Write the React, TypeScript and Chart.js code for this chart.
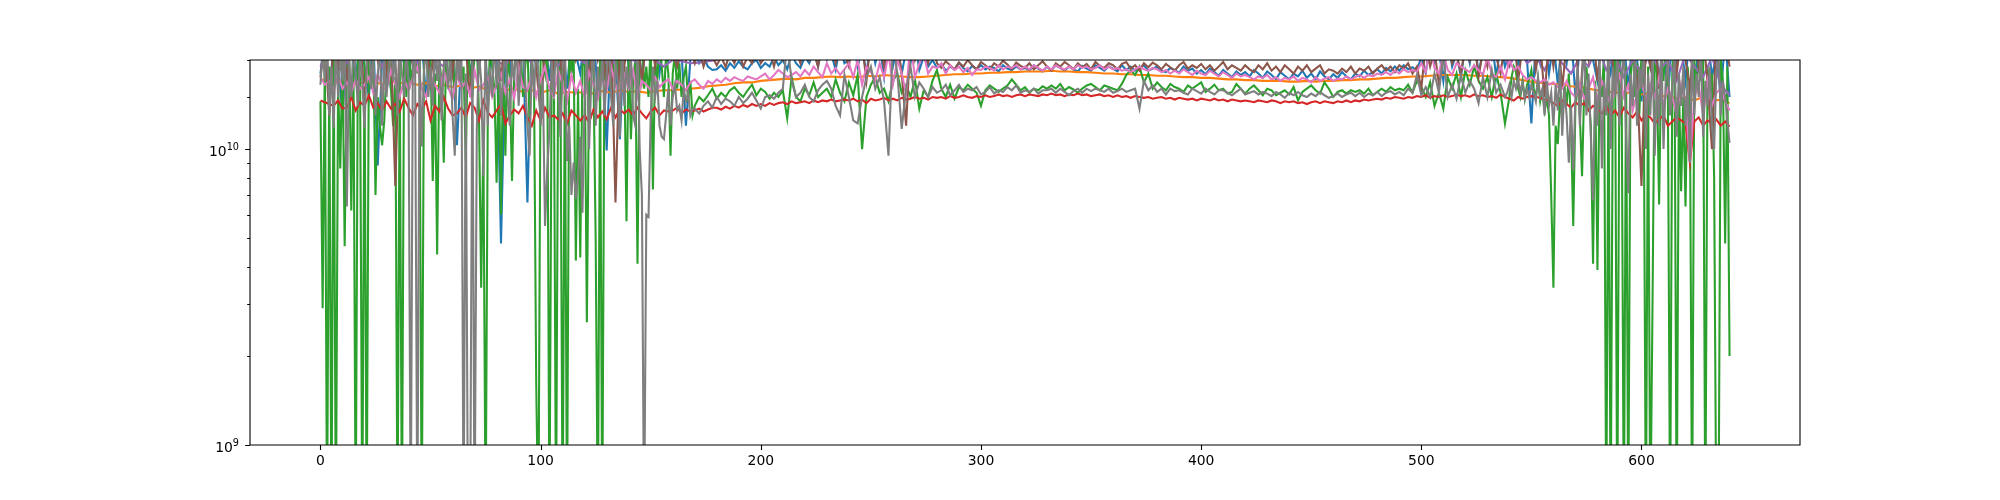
import React, { useEffect, useRef } from "react";
import { Chart, registerables } from "chart.js";

Chart.register(...registerables);

const range = (a: number, b: number, s: number) => {
  const out: number[] = [];
  for (let v = a; v <= b; v += s) out.push(v);
  return out;
};

// Sample positions: every index where the series spike, coarser where they are calm.
const xFine = [...range(0, 169, 1), ...range(170, 538, 2), ...range(539, 640, 1)];
const xStep2 = range(0, 640, 2);
const xStep4 = range(0, 640, 4);
const xTickValues = [0, 100, 200, 300, 400, 500, 600];
const yLabelExponents = [9, 10];

const greenLeft = [
145,29,210,5,190,5,240,5,170,86,
210,47,180,230,62,190,5,220,170,5,
200,5,230,160,210,70,150,120,103,125,
190,230,160,120,175,5,210,5,240,150,
220,170,190,230,180,210,5,190,240,160,
210,78,180,44,200,170,90,190,240,170,
220,150,200,230,170,190,91,230,180,150,
210,240,130,34,110,5,130,220,190,160,
77,200,60,210,95,230,170,78,180,240,
170,210,150,190,230,120,200,170,16,5,
220,200,180,240,5,170,210,5,220,180,
5,200,5,230,180,210,42,160,43,190,
220,26,170,240,180,50,5,200,5,230,
170,210,150,190,240,180,220,160,190,57,
230,108,170,200,41,210,240,160,190,150,
230,73,200,170,240,190,150,210,180,95,
180,210,160,195,150,175,190,145,170,130];
const greenMid = [
140,150,145,152,160,148,155,150,158,162,
155,150,158,165,152,160,156,148,155,150,
158,127,175,150,145,160,152,168,150,155,
160,150,172,155,145,168,152,178,100,150,
165,175,155,160,145,170,180,155,165,150,
172,137,158,150,170,185,160,150,165,148,
162,158,165,160,155,140,158,164,160,156,
160,164,172,165,158,162,155,160,158,163,
160,164,160,166,158,162,159,155,160,164,
166,162,158,164,162,160,158,166,178,185,
178,190,168,180,160,168,162,158,166,162,
160,156,164,160,164,168,156,160,165,158,
160,154,156,166,160,154,160,164,158,152,
160,158,152,155,158,153,162,146,156,160,
164,158,154,168,160,150,156,158,154,158,
156,158,154,160,152,156,160,156,162,158,
160,158,165,155,170,162,150,168,140,155,
137,175,160,180,150,185,165,190,170,160,
175,150,180,155,122];
const greenRight = [
135,
150,175,190,182,160,150,170,148,165,172,
185,160,150,172,145,158,135,148,130,70,
34,120,104,150,125,165,140,180,120,55,
140,170,130,81,160,190,150,120,41,170,
39,185,150,210,5,190,5,170,220,5,
200,160,5,190,5,170,230,150,195,130,
210,180,5,190,5,29,220,180,65,200,
170,230,150,5,190,210,5,170,72,150,
64,190,140,5,200,160,210,170,230,5,
190,150,180,80,5,5,200,170,48,190,
20];

const grayLeft = [
165,220,170,240,130,190,118,230,150,210,
170,240,64,200,150,230,180,140,210,170,
118,190,240,160,210,130,175,230,120,200,
150,190,240,170,210,130,230,180,150,220,
170,5,240,190,5,210,102,180,230,150,
190,140,230,170,210,125,190,240,160,200,
130,95,220,170,240,5,180,5,5,230,
5,116,210,170,81,230,120,190,150,240,
160,210,130,180,230,150,120,200,170,240,
140,190,230,170,120,95,210,150,230,180,
120,170,55,85,115,200,150,230,170,110,
190,240,91,120,70,90,68,80,110,61,
150,200,100,170,230,120,190,150,210,130,
180,240,150,120,200,170,110,230,140,190,
160,210,130,120,230,100,70,5,60,59,
130,190,150,170,120,110,108,130,160,120,
150,165,135,140,125,160,145,155,130,137];
const grayMid = [
137,132,140,145,138,150,142,148,145,140,
150,143,148,155,146,137,150,152,148,155,
160,230,170,150,155,165,150,145,158,165,
170,160,140,130,178,150,125,122,150,175,
190,160,175,145,95,230,180,117,160,190,
150,168,160,150,162,155,158,165,152,158,
165,156,160,158,162,153,156,162,154,158,
156,162,158,164,155,158,156,160,154,158,
158,160,155,160,156,152,157,160,155,160,
157,160,158,156,160,155,157,160,156,158,
160,137,170,158,164,156,160,153,160,157,
158,155,153,160,157,154,160,156,153,158,
158,155,152,156,160,153,155,157,153,156,
154,151,156,153,149,155,152,156,152,150,
154,151,156,152,149,151,154,150,153,155,
151,155,150,154,152,156,151,155,157,153,
156,152,160,155,178,152,162,150,180,155,
210,150,165,148,178,155,170,160,143,175,
150,185,155,165,150];
const grayRight = [
155,
165,150,170,160,172,155,168,148,160,150,
165,155,145,175,150,160,130,170,140,155,
120,165,135,190,111,160,130,90,140,85,
150,190,120,170,230,130,180,110,67,160,
120,200,86,170,130,230,100,190,150,210,
120,170,230,110,71,180,140,210,120,190,
160,230,100,180,130,210,95,170,120,230,
100,170,200,130,160,210,110,180,140,190,
120,170,90,210,130,180,150,230,110,170,
140,190,120,100,180,210,130,170,150,125,
105];

const brownValues = [
175,230,130,240,190,250,170,230,210,240,
150,230,250,200,240,180,230,75,250,210,
230,190,250,210,240,170,230,250,200,240,
180,250,230,220,150,240,190,250,210,230,
240,170,250,200,230,180,250,210,240,190,
130,230,250,190,240,170,230,250,200,220,
240,170,250,200,230,160,250,66,230,190,
250,210,240,170,230,250,190,240,210,250,
210,190,225,200,215,195,220,190,210,205,
192,205,190,210,195,215,190,205,195,215,
195,205,215,190,220,200,210,230,215,195,
225,200,215,190,230,205,220,195,235,210,
190,240,205,225,170,235,210,225,190,240,
205,230,180,120,235,200,225,210,195,230,
195,188,198,192,186,196,190,200,192,186,
197,192,186,195,190,199,193,186,196,191,
188,195,186,192,198,190,184,195,190,197,
192,186,195,189,194,186,197,191,188,195,
192,186,194,197,187,192,184,195,189,196,
192,186,194,189,184,192,197,187,192,188,
194,186,192,184,190,197,186,192,188,184,
192,186,182,192,186,195,184,190,182,192,
186,180,190,184,192,182,187,192,180,186,
184,180,187,182,190,180,187,184,190,180,
187,192,184,190,182,192,187,195,180,190,
160,225,190,215,165,200,230,195,210,180,
225,200,235,175,215,190,240,205,180,230,
195,245,170,225,205,250,185,230,150,240,
190,250,160,230,210,250,140,240,200,250,
170,240,210,250,150,240,195,250,220,170,
75,230,190,250,160,240,210,250,180,240,
200,160,250,190,240,170,100,250,210,240,
190];

const blueValues = [
180,240,150,230,200,130,220,250,170,240,
190,150,240,88,200,230,160,240,190,210,
170,250,200,230,150,240,190,225,250,170,
230,103,210,240,180,225,190,250,160,210,
240,48,210,180,250,195,230,66,240,190,
210,240,170,250,190,230,160,240,210,180,
240,190,250,150,230,99,240,200,108,250,
190,230,250,170,240,210,230,180,250,200,
225,190,210,120,200,215,195,205,190,185,
186,192,184,195,188,198,190,186,195,200,
188,195,190,205,192,200,186,210,195,188,
205,195,215,190,225,200,210,185,225,195,
200,230,190,220,180,235,195,225,175,240,
190,225,180,215,195,230,185,205,190,200,
188,194,184,190,186,196,188,183,191,186,
192,186,190,188,183,192,187,185,190,186,
188,184,192,187,183,190,185,192,188,184,
190,186,183,191,187,184,192,188,184,190,
187,183,192,185,190,184,188,192,184,187,
190,184,182,188,185,181,190,184,187,180,
185,179,187,182,177,185,180,175,183,178,
182,176,185,180,174,183,178,172,182,177,
172,180,176,184,174,180,172,183,176,172,
179,174,182,176,172,180,176,184,178,182,
186,180,188,183,190,184,192,186,189,184,
205,180,230,195,215,170,240,190,210,175,
225,195,240,180,215,200,235,175,225,190,
210,245,190,230,200,122,235,195,250,180,
230,165,240,195,250,150,225,190,240,200,
170,245,210,180,250,190,230,160,240,200,
145,230,190,250,170,225,150,240,195,230,
170,250,155,230,200,245,175,210,150,240,
150];

const purpleValues = [
190,225,205,195,235,200,215,190,230,205,
210,195,225,200,190,235,205,215,195,230,
200,190,225,210,195,235,200,190,220,205,
195,230,200,190,215,205,195,225,200,190,
200,198,195,196,198,200,210,225,240,250,
235,225,245,230,250,225,240,255,230,245,
250,230,240,225,255,235,245,225,250,235,
225,245,235,255,230,240,225,250,235,245,
240,225,250,235,230,245,225,240,255,230,
245,230,225,240,250,235,225,245,230,240,
235,250,225,240,230,245,225,235,250,230,
240,225,235,245,230,225,240,235,225,245,
225,235,245,230,240,225,235,230,245,235,
230,210,225,200,215,190,220,195,205,185,
215,195,180,205,190,225,185,210,175,200,
180,215,185,200,170,210,190,175,205,165,
152];

const pinkValues = [
175,165,170,158,178,160,168,155,172,160,
165,175,155,180,162,158,185,165,150,172,
158,175,190,160,150,178,165,155,185,162,
148,178,160,170,152,185,158,165,175,150,
165,180,155,172,148,190,162,158,178,150,
172,190,160,150,185,165,145,178,155,170,
150,182,165,148,175,158,190,165,150,178,
160,185,150,170,165,158,175,162,168,172,
160,170,165,158,168,172,165,160,170,166,
172,168,174,170,175,172,170,176,174,172,
176,180,172,178,185,180,175,178,182,176,
185,178,190,182,175,195,180,188,178,186,
195,175,200,165,190,182,170,195,175,210,
165,200,180,155,230,175,195,210,180,190,
188,195,180,192,185,190,182,188,178,186,
185,190,188,184,192,186,190,188,192,186,
190,186,192,188,184,190,186,192,188,186,
190,186,192,188,190,186,188,192,186,190,
186,188,184,186,182,186,190,186,184,188,
186,182,185,180,184,180,186,182,178,184,
180,178,184,180,176,182,178,174,180,176,
178,175,172,176,174,178,172,175,170,174,
172,176,170,174,172,168,175,170,173,175,
170,173,172,176,172,175,178,174,178,176,
180,178,182,178,184,180,186,182,185,183,
195,182,225,188,180,210,185,178,195,190,
186,182,192,185,178,205,180,175,190,172,
200,185,190,178,172,175,170,168,172,165,
168,162,160,170,155,150,165,148,160,175,
145,170,155,140,160,178,150,165,135,155,
170,145,165,150,175,140,160,150,130,165,
145,90,150,165,130,170,140,155,160,145,
135];

const redValues = [
146,144,142,140,146,137,138,150,135,144,
140,152,138,143,135,145,137,142,134,148,
138,130,142,136,145,125,140,134,150,137,
130,132,138,128,143,138,125,146,133,128,
135,142,122,130,136,132,140,128,120,135,
125,138,128,130,126,132,122,135,130,125,
130,123,136,128,134,126,138,128,136,132,
136,130,138,132,127,134,138,130,135,134,
135,138,132,136,134,135,137,134,136,138,
138,136,139,137,140,138,141,139,142,140,
142,140,143,141,143,144,142,145,143,144,
145,143,146,144,146,145,147,145,146,147,
146,148,145,147,143,148,146,147,149,146,
148,146,149,147,148,150,148,149,147,150,
149,150,148,151,149,150,152,150,149,151,
150,152,150,151,153,151,152,150,152,153,
151,153,152,151,153,152,154,152,153,151,
153,152,154,152,153,151,152,153,151,152,
150,152,150,151,149,151,150,149,150,148,
149,150,148,149,147,149,148,147,148,146,
148,147,146,148,146,147,145,147,146,145,
146,145,144,146,145,144,146,145,143,145,
144,145,143,144,142,144,145,143,145,144,
143,145,144,146,144,146,145,147,146,147,
148,147,149,148,150,149,148,150,149,151,
150,152,149,151,150,152,150,151,153,151,
152,150,153,151,152,150,151,149,153,150,
148,146,150,148,150,151,150,149,147,146,
143,140,146,142,138,144,140,143,135,140,
137,132,140,130,135,128,138,132,128,134,
125,130,128,122,126,130,120,124,128,125,
122,90,124,128,120,125,122,126,120,124,
119];

const orangeValues = [
172,170,168,172,166,168,170,165,170,167,
168,165,167,163,165,162,164,160,163,158,
162,158,160,156,158,155,158,154,156,155,
156,154,157,155,158,156,157,155,157,158,
158,159,160,161,163,164,165,167,168,168,
170,171,172,173,172,174,174,175,176,175,
176,175,177,176,178,177,176,175,175,176,
177,178,179,179,180,180,181,181,182,182,
183,183,183,184,183,183,182,182,181,180,
180,179,179,178,178,177,177,176,175,175,
174,174,173,172,172,171,171,170,170,170,
169,169,170,169,170,170,171,171,172,172,
173,174,174,175,176,176,177,178,178,178,
178,177,177,176,175,174,172,170,168,167,
166,165,163,162,160,158,157,155,156,154,
153,155,150,152,148,150,146,150,145,147,
143];

const greenValues = [...greenLeft, ...greenMid, ...greenRight];
const grayValues = [...grayLeft, ...grayMid, ...grayRight];

const seriesTable = [
  { color: "#1f77b4", xs: xStep2, values: blueValues },
  { color: "#ff7f0e", xs: xStep4, values: orangeValues },
  { color: "#2ca02c", xs: xFine, values: greenValues },
  { color: "#d62728", xs: xStep2, values: redValues },
  { color: "#9467bd", xs: xStep4, values: purpleValues },
  { color: "#8c564b", xs: xStep2, values: brownValues },
  { color: "#e377c2", xs: xStep2, values: pinkValues },
  { color: "#7f7f7f", xs: xFine, values: grayValues },
];

const frameAndTicks = {
  id: "frameAndTicks",
  afterDraw(chart: any) {
    const { ctx, chartArea: a, scales } = chart;
    ctx.save();
    ctx.strokeStyle = "#000";
    ctx.lineWidth = 1.1;
    ctx.beginPath();
    for (const t of scales.y.ticks) {
      const py = Math.round(scales.y.getPixelForValue(t.value)) + 0.5;
      const exp = Math.log10(t.value);
      const len = Math.abs(exp - Math.round(exp)) < 1e-6 ? 4.9 : 2.8;
      ctx.moveTo(a.left, py);
      ctx.lineTo(a.left - len, py);
    }
    for (const t of scales.x.ticks) {
      const px = Math.round(scales.x.getPixelForValue(t.value)) + 0.5;
      ctx.moveTo(px, a.bottom);
      ctx.lineTo(px, a.bottom + 4.9);
    }
    ctx.rect(a.left, a.top, a.right - a.left, a.bottom - a.top);
    ctx.stroke();

    // y tick labels with a true raised exponent, as on the reference
    ctx.fillStyle = "#000";
    ctx.textBaseline = "alphabetic";
    ctx.textAlign = "right";
    for (const e of yLabelExponents) {
      const py = scales.y.getPixelForValue(Math.pow(10, e));
      const exponent = String(e);
      ctx.font = "9.7px 'DejaVu Sans'";
      const w = ctx.measureText(exponent).width;
      ctx.fillText(exponent, 239, py + 1);
      ctx.font = "13.9px 'DejaVu Sans'";
      ctx.fillText("10", 239 - w, py + 6.5);
    }
    ctx.restore();
  },
};

export default function App() {
  const ref = useRef<HTMLCanvasElement>(null);
  useEffect(() => {
    document.body.style.margin = "0";
    const font = { family: "'DejaVu Sans'", size: 13.9 };
    const chart = new Chart(ref.current as HTMLCanvasElement, {
      type: "line",
      data: {
        datasets: seriesTable.map((s, i) => ({
          label: `series ${i}`,
          data: s.values.map((v, k) => ({ x: s.xs[k], y: v * 1e8 })),
          borderColor: s.color,
          backgroundColor: s.color,
          borderWidth: 2.08,
          pointRadius: 0,
          tension: 0,
          fill: false,
          order: seriesTable.length - i,
        })),
      },
      options: {
        animation: false,
        responsive: false,
        maintainAspectRatio: false,
        layout: { padding: { left: 0, right: 200, top: 60, bottom: 0 } },
        plugins: { legend: { display: false }, tooltip: { enabled: false } },
        scales: {
          x: {
            type: "linear",
            min: -32,
            max: 672,
            border: { display: false },
            grid: { drawOnChartArea: false, drawTicks: true, tickLength: 5, tickColor: "transparent" },
            afterBuildTicks(scale: any) {
              scale.ticks = xTickValues.map((value) => ({ value }));
            },
            ticks: {
              color: "#000",
              font,
              padding: 3,
              maxRotation: 0,
              autoSkip: false,
              callback: (value: any) => String(value),
            },
            afterFit(scale: any) {
              scale.height = 55;
            },
          },
          y: {
            type: "logarithmic",
            min: 1e9,
            max: 2e10,
            border: { display: false },
            grid: { drawOnChartArea: false, drawTicks: true, tickLength: 5, tickColor: "transparent" },
            ticks: {
              color: "#000",
              font,
              padding: 5,
              autoSkip: false,
              callback: () => "",
            },
            afterFit(scale: any) {
              scale.width = 250;
            },
          },
        },
      },
      plugins: [frameAndTicks],
    } as any);
    return () => chart.destroy();
  }, []);
  return <canvas ref={ref} width={2000} height={500} style={{ display: "block" }} />;
}
